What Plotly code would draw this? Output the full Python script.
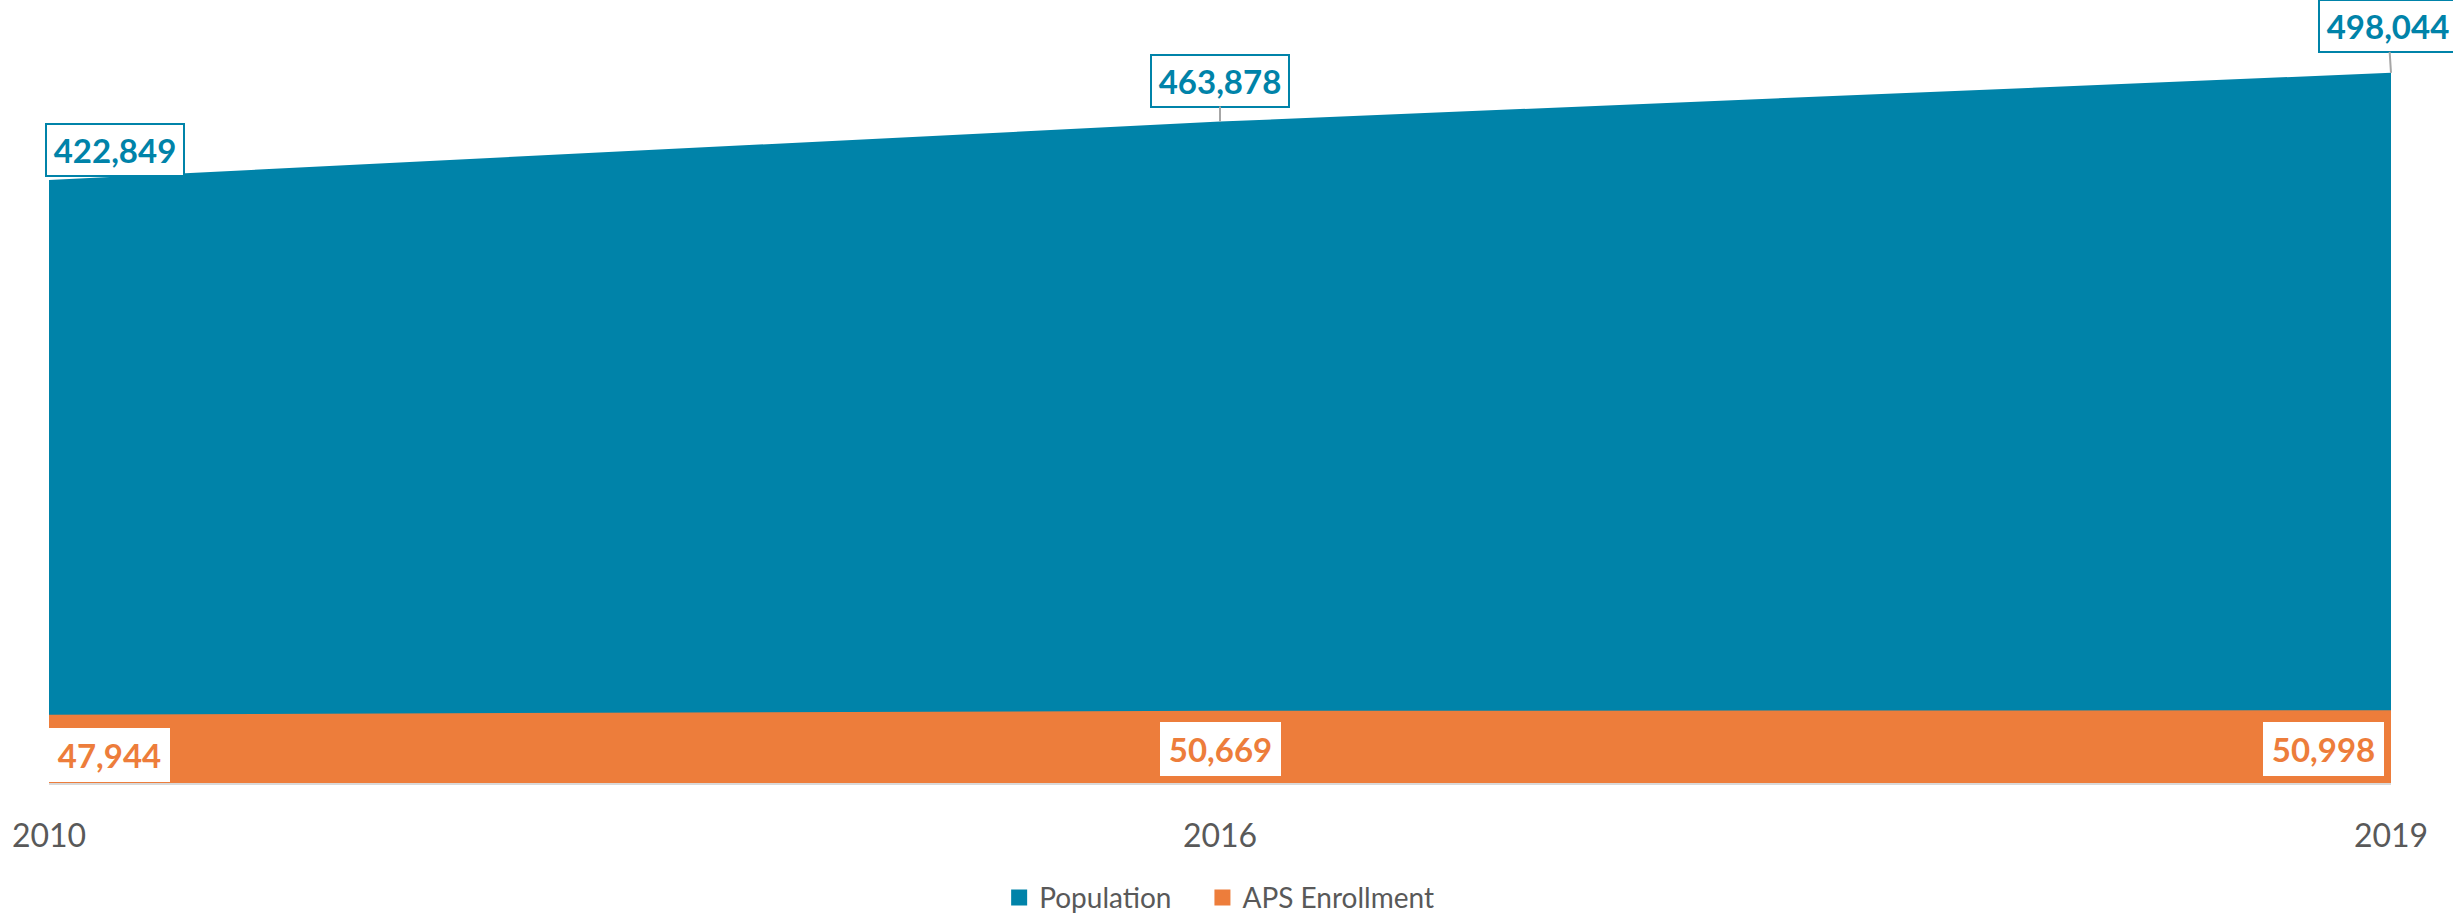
import plotly.graph_objects as go

years = ["2010", "2016", "2019"]
population = [422849, 463878, 498044]
enrollment = [47944, 50669, 50998]

BLUE = "#0083A9"
ORANGE = "#ED7D3B"
FONT = "Lato"

fig = go.Figure()
fig.add_trace(go.Scatter(x=years, y=population, mode="none", fill="tozeroy",
                         fillcolor=BLUE, showlegend=False, hoverinfo="skip"))
fig.add_trace(go.Scatter(x=years, y=enrollment, mode="none", fill="tozeroy",
                         fillcolor=ORANGE, showlegend=False, hoverinfo="skip"))
# legend entries
fig.add_trace(go.Scatter(x=[None], y=[None], mode="markers", name="Population",
                         marker=dict(symbol="square", size=17, color=BLUE),
                         legend="legend"))
fig.add_trace(go.Scatter(x=[None], y=[None], mode="markers", name="APS Enrollment",
                         marker=dict(symbol="square", size=17, color=ORANGE),
                         legend="legend2"))

def fmt(v):
    return f"<b>{v:,}</b>"

pop_cfg = [
    dict(showarrow=False, xanchor="left", yanchor="bottom", xshift=-4, yshift=3),
    dict(showarrow=True, ax=0, ay=-41),
    dict(showarrow=True, ax=-3, ay=-47),
]
annotations = []
for i, (v, cfg) in enumerate(zip(population, pop_cfg)):
    annotations.append(dict(x=i, y=v, xref="x", yref="y", text=fmt(v),
                            font=dict(family=FONT, size=33, color=BLUE),
                            bgcolor="white", bordercolor=BLUE, borderwidth=2,
                            borderpad=3, width=130, height=44,
                            arrowhead=0, arrowcolor="#A6A6A6", arrowwidth=2,
                            **cfg))

enr_cfg = [
    dict(xanchor="left", xshift=0, yshift=-40),
    dict(xanchor="center", xshift=0, yshift=-38),
    dict(xanchor="right", xshift=-7, yshift=-39),
]
for i, (v, cfg) in enumerate(zip(enrollment, enr_cfg)):
    annotations.append(dict(x=i, y=v, xref="x", yref="y", text=fmt(v),
                            font=dict(family=FONT, size=33, color=ORANGE),
                            bgcolor="white", borderwidth=0, borderpad=0,
                            width=121, height=54,
                            showarrow=False, yanchor="middle", **cfg))

legend_common = dict(orientation="h", xanchor="left", yref="container",
                     y=0.02, yanchor="middle",
                     font=dict(family=FONT, size=28, color="#595959"),
                     itemwidth=30)

fig.update_layout(
    annotations=annotations,
    width=2453, height=916,
    margin=dict(l=47, r=62, t=13, b=133),
    plot_bgcolor="white", paper_bgcolor="white",
    font=dict(family=FONT, color="#595959"),
    xaxis=dict(type="category", range=[0, 2], showgrid=False, zeroline=False,
               showline=True, linecolor="#D9D9D9", linewidth=2,
               ticks="", tickfont=dict(family=FONT, size=32, color="#595959"),
               ticklabelstandoff=24),
    yaxis=dict(range=[0, 540000], visible=False, showgrid=False, zeroline=False),
    showlegend=True,
    legend=dict(x=0.4057, **legend_common),
    legend2=dict(x=0.4925, **legend_common),
)

fig.write_html("out.html", config={"displayModeBar": False},
               post_script="document.body.style.margin='0';")
